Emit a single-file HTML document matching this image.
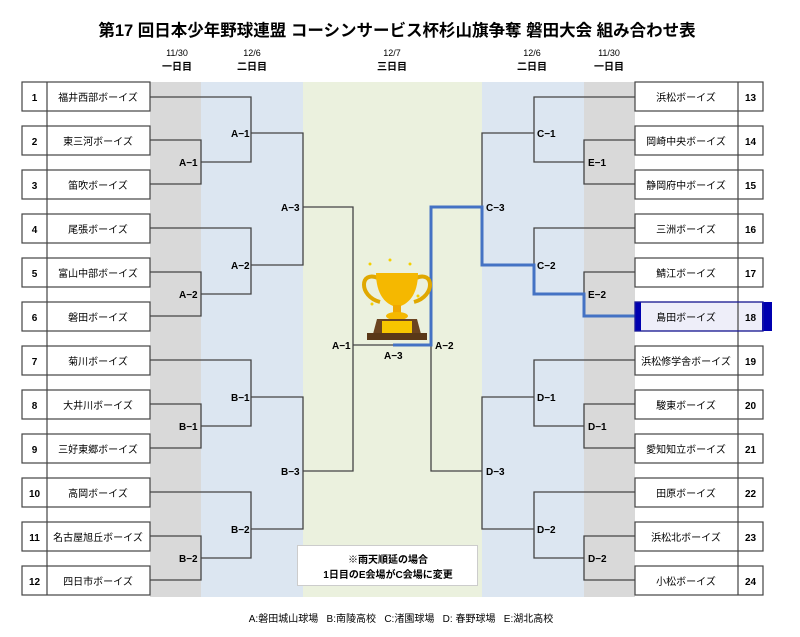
<!DOCTYPE html>
<html><head><meta charset="utf-8"><style>
body{margin:0;background:#fff;width:800px;height:637px;overflow:hidden}
svg{display:block}
text{font-family:"Liberation Sans","Noto Sans CJK JP",sans-serif}
</style></head><body>
<svg width="800" height="637" viewBox="0 0 800 637" xmlns="http://www.w3.org/2000/svg">
<rect x="150" y="82" width="51" height="515" fill="#d9d9d9"/>
<rect x="201" y="82" width="102" height="515" fill="#dce6f1"/>
<rect x="303" y="82" width="179" height="515" fill="#ebf1de"/>
<rect x="482" y="82" width="102" height="515" fill="#dce6f1"/>
<rect x="584" y="82" width="51" height="515" fill="#d9d9d9"/>

<text x="397" y="36" font-size="16.5" font-weight="bold" text-anchor="middle">第17 回日本少年野球連盟  コーシンサービス杯杉山旗争奪  磐田大会  組み合わせ表</text>
<g font-size="9" text-anchor="middle">
<text x="177" y="56">11/30</text><text x="252" y="56">12/6</text><text x="392" y="56">12/7</text><text x="532" y="56">12/6</text><text x="609" y="56">11/30</text>
</g>
<g font-size="10" font-weight="bold" text-anchor="middle">
<text x="177" y="70">一日目</text><text x="252" y="70">二日目</text><text x="392" y="70">三日目</text><text x="532" y="70">二日目</text><text x="609" y="70">一日目</text>
</g>

<g stroke="#444" stroke-width="1.3" fill="none">
<path d="M150 97H251V162H201M150 140H201V184H150"/>
<path d="M251 133H303V265H251M150 228H251V294H201M150 272H201V316H150"/>
<path d="M303 207H353V471H303"/>
<path d="M150 360H251V426H201M150 404H201V448H150"/>
<path d="M251 397H303V529H251M150 492H251V558H201M150 536H201V580H150"/>
<path d="M353 345H393"/>
<path d="M635 97H534V162H584M635 140H584V184H635"/>
<path d="M534 133H482V265H534M635 228H534V294H584M635 272H584V294"/>
<path d="M482 207H431V471H482"/>
<path d="M635 360H534V426H584M635 404H584V448H635"/>
<path d="M534 397H482V529H534M635 492H534V558H584M635 536H584V580H635"/>
</g>
<path d="M635 316H584V294H534V265H482V207H431V345H393" stroke="#4472c4" stroke-width="3" fill="none"/>

<g font-size="10" font-weight="bold">
<text x="179" y="166">A−1</text><text x="231" y="137">A−1</text><text x="179" y="298">A−2</text><text x="231" y="269">A−2</text>
<text x="281" y="211">A−3</text><text x="179" y="430">B−1</text><text x="231" y="401">B−1</text><text x="179" y="562">B−2</text><text x="231" y="533">B−2</text>
<text x="281" y="475">B−3</text><text x="332" y="349">A−1</text><text x="384" y="359">A−3</text><text x="435" y="349">A−2</text>
<text x="486" y="211">C−3</text><text x="537" y="137">C−1</text><text x="537" y="269">C−2</text><text x="588" y="166">E−1</text><text x="588" y="298">E−2</text>
<text x="486" y="475">D−3</text><text x="537" y="401">D−1</text><text x="537" y="533">D−2</text><text x="588" y="430">D−1</text><text x="588" y="562">D−2</text>
</g>

<g>
<g fill="#f5d000"><circle cx="370" cy="264" r="1.5"/><circle cx="390" cy="260" r="1.5"/><circle cx="410" cy="264" r="1.5"/><circle cx="372" cy="304" r="1.5"/><circle cx="418" cy="296" r="1.5"/><circle cx="406" cy="300" r="1.5"/></g>
<path d="M378 278C360 270 358 296 380 302M416 278C434 270 436 296 414 302" stroke="#e0a800" stroke-width="4" fill="none"/>
<path d="M376 273H418C418 295 408 305 397 307C386 305 376 295 376 273Z" fill="#f5b800"/>
<rect x="393" y="305" width="8" height="9" fill="#f0a800"/>
<ellipse cx="397" cy="316" rx="11" ry="4" fill="#f5b800"/>
<path d="M373 334L377 319H417L421 334Z" fill="#6b4421"/>
<rect x="382" y="321" width="30" height="12" fill="#f7c600"/>
<rect x="367" y="333" width="60" height="7" fill="#5a3818"/>
</g>

<g font-size="10" text-anchor="middle" stroke="#444" stroke-width="1.2">
<g fill="#fff"><rect x="22" y="82" width="128" height="29"/><rect x="22" y="126" width="128" height="29"/><rect x="22" y="170" width="128" height="29"/><rect x="22" y="214" width="128" height="29"/><rect x="22" y="258" width="128" height="29"/><rect x="22" y="302" width="128" height="29"/><rect x="22" y="346" width="128" height="29"/><rect x="22" y="390" width="128" height="29"/><rect x="22" y="434" width="128" height="29"/><rect x="22" y="478" width="128" height="29"/><rect x="22" y="522" width="128" height="29"/><rect x="22" y="566" width="128" height="29"/>
<rect x="635" y="82" width="128" height="29"/><rect x="635" y="126" width="128" height="29"/><rect x="635" y="170" width="128" height="29"/><rect x="635" y="214" width="128" height="29"/><rect x="635" y="258" width="128" height="29"/><rect x="635" y="302" width="128" height="29" fill="#eeeef9"/><rect x="635" y="346" width="128" height="29"/><rect x="635" y="390" width="128" height="29"/><rect x="635" y="434" width="128" height="29"/><rect x="635" y="478" width="128" height="29"/><rect x="635" y="522" width="128" height="29"/><rect x="635" y="566" width="128" height="29"/></g>
<path d="M47 82V595M738 82V595"/>
</g>
<rect x="635" y="302" width="6" height="29" fill="#0000b0"/>
<rect x="762" y="302" width="10" height="29" fill="#0000b0"/>
<rect x="635" y="302" width="128" height="29" fill="none" stroke="#1a1aa0" stroke-width="1.2"/>

<g font-size="10" text-anchor="middle">
<g font-weight="bold">
<text x="34.5" y="101">1</text><text x="34.5" y="145">2</text><text x="34.5" y="189">3</text><text x="34.5" y="233">4</text><text x="34.5" y="277">5</text><text x="34.5" y="321">6</text><text x="34.5" y="365">7</text><text x="34.5" y="409">8</text><text x="34.5" y="453">9</text><text x="34.5" y="497">10</text><text x="34.5" y="541">11</text><text x="34.5" y="585">12</text>
<text x="750.5" y="101">13</text><text x="750.5" y="145">14</text><text x="750.5" y="189">15</text><text x="750.5" y="233">16</text><text x="750.5" y="277">17</text><text x="750.5" y="321">18</text><text x="750.5" y="365">19</text><text x="750.5" y="409">20</text><text x="750.5" y="453">21</text><text x="750.5" y="497">22</text><text x="750.5" y="541">23</text><text x="750.5" y="585">24</text>
</g>
<text x="98" y="101">福井西部ボーイズ</text><text x="98" y="145">東三河ボーイズ</text><text x="98" y="189">笛吹ボーイズ</text><text x="98" y="233">尾張ボーイズ</text><text x="98" y="277">富山中部ボーイズ</text><text x="98" y="321">磐田ボーイズ</text><text x="98" y="365">菊川ボーイズ</text><text x="98" y="409">大井川ボーイズ</text><text x="98" y="453">三好東郷ボーイズ</text><text x="98" y="497">高岡ボーイズ</text><text x="98" y="541">名古屋旭丘ボーイズ</text><text x="98" y="585">四日市ボーイズ</text>
<text x="686" y="101">浜松ボーイズ</text><text x="686" y="145">岡崎中央ボーイズ</text><text x="686" y="189">静岡府中ボーイズ</text><text x="686" y="233">三洲ボーイズ</text><text x="686" y="277">鯖江ボーイズ</text><text x="686" y="321">島田ボーイズ</text><text x="686" y="365">浜松修学舎ボーイズ</text><text x="686" y="409">駿東ボーイズ</text><text x="686" y="453">愛知知立ボーイズ</text><text x="686" y="497">田原ボーイズ</text><text x="686" y="541">浜松北ボーイズ</text><text x="686" y="585">小松ボーイズ</text>
</g>

<rect x="297.5" y="545.5" width="180" height="40" fill="#fff" stroke="#ccc"/>
<g font-size="10" font-weight="bold" text-anchor="middle">
<text x="388" y="563">※雨天順延の場合</text><text x="388" y="578">1日目のE会場がC会場に変更</text>
</g>
<text x="401" y="622" font-size="10" text-anchor="middle" xml:space="preserve">A:磐田城山球場   B:南陵高校   C:渚園球場   D: 春野球場   E:湖北高校</text>
</svg>
</body></html>
